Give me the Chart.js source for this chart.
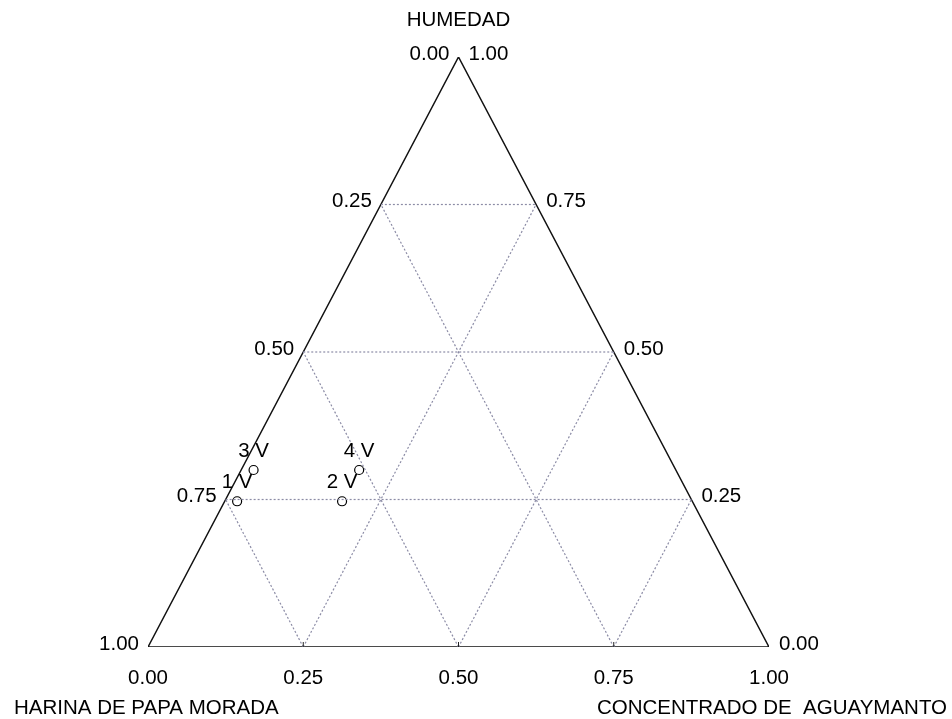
<!DOCTYPE html>
<html>
<head>
<meta charset="utf-8">
<script src="https://cdn.jsdelivr.net/npm/chart.js@4.4.1/dist/chart.umd.min.js"></script>
<style>
  html, body { margin: 0; padding: 0; background: #fff; }
  #wrap { width: 952px; height: 719px; }
</style>
</head>
<body>
<div id="wrap"><canvas id="ternario"></canvas></div>
<script>
// mezclas (fracciones): harina + concentrado + humedad = 1
const mezclas = ['1 V', '2 V', '3 V', '4 V'];
const harina = [0.733, 0.564, 0.680, 0.510];
const concentrado = [0.020, 0.189, 0.020, 0.190];
const humedad = [0.247, 0.247, 0.300, 0.300];

const ticks = [0, 0.25, 0.5, 0.75, 1];
const tituloArriba = 'HUMEDAD';
const tituloIzq = 'HARINA DE PAPA MORADA';
const tituloDer = 'CONCENTRADO DE  AGUAYMANTO';

// ternario -> plano (x = concentrado + humedad/2, y = humedad)
const toXY = (b, c) => ({ x: b + c / 2, y: c });

const puntos = mezclas.map((m, i) => toXY(concentrado[i], humedad[i]));

const grid = [];
[0.25, 0.5, 0.75].forEach(v => {
  // humedad constante
  grid.push([toXY(0, v), toXY(1 - v, v)]);
  // concentrado constante
  grid.push([toXY(v, 0), toXY(v, 1 - v)]);
  // harina constante
  grid.push([toXY(1 - v, 0), toXY(0, 1 - v)]);
});

const datasets = grid.map(seg => ({
  type: 'line', data: seg, borderColor: '#8c8ca6', borderWidth: 1.2,
  borderDash: [2, 2], pointRadius: 0, fill: false
}));
datasets.push({
  type: 'line',
  data: [toXY(0, 0), toXY(1, 0), toXY(0, 1), toXY(0, 0)],
  borderColor: '#111', borderWidth: 1.5, pointRadius: 0, fill: false
});
datasets.push({
  type: 'scatter', data: puntos, pointRadius: 4.5, pointBorderWidth: 1.2,
  pointBackgroundColor: '#fff', pointBorderColor: '#000'
});

const fuente = '20.5px "Liberation Sans", Arial, sans-serif';

const textos = {
  id: 'textos',
  afterDatasetsDraw(chart) {
    const { ctx, scales: { x, y } } = chart;
    const px = p => [x.getPixelForValue(p.x), y.getPixelForValue(p.y)];
    ctx.save();
    ctx.font = fuente;
    ctx.fillStyle = '#000';
    ctx.strokeStyle = '#222';
    ctx.lineWidth = 1;

    // marcas cortas sobre la base
    ticks.slice(1, 4).forEach(v => {
      let [a1, b1] = px(toXY(v, 0));
      ctx.beginPath(); ctx.moveTo(a1, b1); ctx.lineTo(a1, b1 - 5); ctx.stroke();
    });

    ctx.textBaseline = 'middle';
    ticks.forEach(v => {
      // lado izquierdo: harina (1 abajo, 0 arriba)
      let [lx, ly] = px(toXY(0, v));
      ctx.textAlign = 'right';
      ctx.fillText((1 - v).toFixed(2), lx - 9, ly - 3);
      // lado derecho: humedad
      let [rx, ry] = px(toXY(1 - v, v));
      ctx.textAlign = 'left';
      ctx.fillText(v.toFixed(2), rx + 10, ry - 3);
      // base: concentrado
      let [bx, by] = px(toXY(v, 0));
      ctx.textAlign = 'center';
      ctx.fillText(v.toFixed(2), bx, by + 31);
    });

    // etiquetas de puntos
    ctx.textAlign = 'center';
    puntos.forEach((p, i) => {
      let [qx, qy] = px(p);
      ctx.fillText(mezclas[i], qx, qy - 19);
    });

    // titulos
    ctx.textAlign = 'center';
    ctx.fillText(tituloArriba, x.getPixelForValue(0.5), 20);
    ctx.textAlign = 'left';
    ctx.fillText(tituloIzq, 14, 708);
    ctx.textAlign = 'right';
    ctx.fillText(tituloDer, 947, 708);
    ctx.restore();
  }
};

new Chart(document.getElementById('ternario'), {
  type: 'scatter',
  data: { datasets },
  options: {
    responsive: true,
    maintainAspectRatio: false,
    animation: false,
    layout: { padding: { left: 148, right: 183, top: 57, bottom: 72 } },
    plugins: { legend: { display: false }, tooltip: { enabled: false } },
    scales: {
      x: { type: 'linear', min: 0, max: 1, display: false },
      y: { type: 'linear', min: 0, max: 1, display: false }
    }
  },
  plugins: [textos]
});
</script>
</body>
</html>
